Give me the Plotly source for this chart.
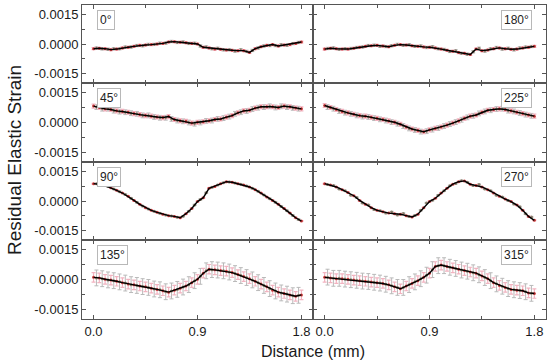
import plotly.graph_objects as go
from plotly.subplots import make_subplots

# Distance (mm) positions
DIST = [0.00, 0.05, 0.10, 0.15, 0.20, 0.25, 0.30, 0.35, 0.40, 0.45, 0.50, 0.55,
        0.60, 0.65, 0.70, 0.75, 0.80, 0.85, 0.90, 0.95, 1.00, 1.05, 1.10, 1.15,
        1.20, 1.25, 1.30, 1.35, 1.40, 1.45, 1.50, 1.55, 1.60, 1.65, 1.70, 1.75, 1.80]
DIST_PTS = [0.025, 0.075, 0.125, 0.175, 0.225, 0.275, 0.325, 0.375, 0.425, 0.475,
            0.525, 0.575, 0.625, 0.675, 0.725, 0.775, 0.825, 0.875, 0.925, 0.975,
            1.025, 1.075, 1.125, 1.175, 1.225, 1.275, 1.325, 1.375, 1.425, 1.475,
            1.525, 1.575, 1.625, 1.675, 1.725, 1.775]

# Residual elastic strain: mean curve (black) and measured points
MEAN_0 = [-24e-5, -22e-5, -24e-5, -29e-5, -26e-5, -20e-5, -17e-5, -12e-5, -7e-5, -5e-5, -3e-5, 0e-5,
          3e-5, 10e-5, 12e-5, 9e-5, 7e-5, 3e-5, 0e-5, -17e-5, -20e-5, -26e-5, -27e-5, -31e-5,
          -32e-5, -34e-5, -34e-5, -43e-5, -24e-5, -14e-5, -7e-5, -3e-5, -10e-5, -5e-5, -3e-5, 3e-5, 10e-5]
PTS_0 = [-21e-5, -25e-5, -27e-5, -25e-5, -24e-5, -16e-5, -15e-5, -8e-5, -9e-5, -2e-5, -2e-5, 4e-5,
         5e-5, 13e-5, 8e-5, 10e-5, 3e-5, 4e-5, -10e-5, -15e-5, -24e-5, -22e-5, -30e-5, -29e-5,
         -36e-5, -30e-5, -38e-5, -33e-5, -20e-5, -10e-5, -8e-5, -8e-5, -4e-5, -6e-5, 2e-5, 8e-5]

MEAN_180 = [-26e-5, -22e-5, -24e-5, -26e-5, -26e-5, -22e-5, -17e-5, -12e-5, -9e-5, -7e-5, -10e-5, -14e-5,
            -7e-5, -3e-5, -5e-5, -9e-5, -12e-5, -15e-5, -17e-5, -20e-5, -26e-5, -32e-5, -37e-5, -44e-5,
            -48e-5, -54e-5, -26e-5, -34e-5, -31e-5, -24e-5, -20e-5, -24e-5, -27e-5, -26e-5, -20e-5, -17e-5, -12e-5]
PTS_180 = [-23e-5, -20e-5, -27e-5, -24e-5, -23e-5, -18e-5, -15e-5, -8e-5, -6e-5, -11e-5, -13e-5, -9e-5,
           -2e-5, -6e-5, -4e-5, -12e-5, -10e-5, -18e-5, -14e-5, -24e-5, -28e-5, -38e-5, -35e-5, -48e-5,
           -52e-5, -40e-5, -22e-5, -36e-5, -25e-5, -18e-5, -26e-5, -22e-5, -30e-5, -20e-5, -16e-5, -13e-5]

MEAN_45 = [83e-5, 76e-5, 69e-5, 66e-5, 59e-5, 56e-5, 52e-5, 45e-5, 40e-5, 35e-5, 32e-5, 28e-5,
           25e-5, 30e-5, 15e-5, 9e-5, 6e-5, -3e-5, 1e-5, 4e-5, 9e-5, 15e-5, 18e-5, 27e-5,
           35e-5, 49e-5, 59e-5, 62e-5, 73e-5, 80e-5, 80e-5, 80e-5, 76e-5, 83e-5, 80e-5, 73e-5, 69e-5]
PTS_45 = [78e-5, 70e-5, 70e-5, 60e-5, 55e-5, 52e-5, 47e-5, 44e-5, 36e-5, 36e-5, 28e-5, 24e-5,
          24e-5, 18e-5, 10e-5, 6e-5, 0e-5, -6e-5, 0e-5, 8e-5, 10e-5, 18e-5, 22e-5, 30e-5,
          44e-5, 52e-5, 58e-5, 68e-5, 75e-5, 78e-5, 82e-5, 76e-5, 82e-5, 78e-5, 74e-5, 70e-5]

MEAN_225 = [86e-5, 76e-5, 66e-5, 56e-5, 49e-5, 42e-5, 35e-5, 32e-5, 26e-5, 21e-5, 15e-5, 8e-5,
            1e-5, -9e-5, -23e-5, -33e-5, -40e-5, -47e-5, -37e-5, -30e-5, -23e-5, -13e-5, -3e-5, 8e-5,
            21e-5, 32e-5, 38e-5, 52e-5, 62e-5, 66e-5, 69e-5, 66e-5, 59e-5, 52e-5, 45e-5, 38e-5, 32e-5]
PTS_225 = [78e-5, 70e-5, 58e-5, 50e-5, 44e-5, 36e-5, 30e-5, 28e-5, 22e-5, 16e-5, 10e-5, 2e-5,
           -6e-5, -18e-5, -30e-5, -38e-5, -46e-5, -44e-5, -36e-5, -28e-5, -18e-5, -8e-5, 2e-5, 14e-5,
           26e-5, 34e-5, 46e-5, 56e-5, 62e-5, 68e-5, 70e-5, 60e-5, 56e-5, 48e-5, 40e-5, 34e-5]

MEAN_90 = [89e-5, 86e-5, 79e-5, 68e-5, 55e-5, 41e-5, 24e-5, 3e-5, -17e-5, -34e-5, -48e-5, -58e-5,
           -68e-5, -75e-5, -79e-5, -86e-5, -65e-5, -38e-5, -3e-5, 17e-5, 65e-5, 75e-5, 89e-5, 99e-5,
           96e-5, 89e-5, 82e-5, 72e-5, 58e-5, 41e-5, 21e-5, 3e-5, -17e-5, -38e-5, -62e-5, -86e-5, -103e-5]
PTS_90 = [88e-5, 83e-5, 74e-5, 62e-5, 48e-5, 33e-5, 14e-5, -7e-5, -26e-5, -41e-5, -53e-5, -63e-5,
          -72e-5, -77e-5, -83e-5, -78e-5, -52e-5, -20e-5, 8e-5, 42e-5, 70e-5, 82e-5, 94e-5, 98e-5,
          92e-5, 86e-5, 77e-5, 65e-5, 50e-5, 31e-5, 12e-5, -7e-5, -28e-5, -50e-5, -74e-5, -95e-5]

MEAN_270 = [89e-5, 82e-5, 72e-5, 58e-5, 44e-5, 27e-5, 3e-5, -17e-5, -34e-5, -48e-5, -55e-5, -62e-5,
            -65e-5, -68e-5, -75e-5, -82e-5, -68e-5, -34e-5, -3e-5, 14e-5, 41e-5, 65e-5, 86e-5, 99e-5,
            103e-5, 86e-5, 79e-5, 72e-5, 58e-5, 41e-5, 24e-5, 10e-5, -3e-5, -21e-5, -48e-5, -79e-5, -99e-5]
PTS_270 = [84e-5, 80e-5, 62e-5, 52e-5, 30e-5, 18e-5, -10e-5, -20e-5, -44e-5, -50e-5, -62e-5, -56e-5,
           -72e-5, -64e-5, -80e-5, -74e-5, -48e-5, -10e-5, 4e-5, 30e-5, 52e-5, 78e-5, 90e-5, 104e-5,
           96e-5, 80e-5, 84e-5, 62e-5, 52e-5, 30e-5, 20e-5, 2e-5, -16e-5, -30e-5, -66e-5, -82e-5]

MEAN_135 = [11e-5, 8e-5, 1e-5, -3e-5, -9e-5, -16e-5, -23e-5, -27e-5, -33e-5, -37e-5, -44e-5, -50e-5,
            -57e-5, -64e-5, -54e-5, -44e-5, -33e-5, -16e-5, 1e-5, 32e-5, 52e-5, 49e-5, 45e-5, 42e-5,
            35e-5, 25e-5, 15e-5, 4e-5, -9e-5, -23e-5, -37e-5, -54e-5, -64e-5, -71e-5, -78e-5, -85e-5, -78e-5]
PTS_135 = [8e-5, 4e-5, -2e-5, -6e-5, -12e-5, -18e-5, -26e-5, -30e-5, -36e-5, -40e-5, -48e-5, -52e-5,
           -62e-5, -58e-5, -50e-5, -38e-5, -26e-5, -6e-5, 16e-5, 44e-5, 50e-5, 48e-5, 44e-5, 38e-5,
           30e-5, 20e-5, 10e-5, -2e-5, -16e-5, -30e-5, -46e-5, -58e-5, -68e-5, -74e-5, -82e-5, -80e-5]

MEAN_315 = [11e-5, 8e-5, 4e-5, 4e-5, 1e-5, -3e-5, -6e-5, -9e-5, -13e-5, -16e-5, -20e-5, -27e-5,
            -37e-5, -47e-5, -33e-5, -20e-5, -6e-5, 11e-5, 32e-5, 66e-5, 73e-5, 66e-5, 59e-5, 52e-5,
            45e-5, 38e-5, 32e-5, 18e-5, 4e-5, -16e-5, -30e-5, -40e-5, -50e-5, -54e-5, -57e-5, -68e-5, -71e-5]
PTS_315 = [12e-5, 6e-5, 6e-5, 2e-5, -1e-5, -4e-5, -8e-5, -10e-5, -14e-5, -18e-5, -24e-5, -32e-5,
           -40e-5, -40e-5, -26e-5, -12e-5, 4e-5, 22e-5, 50e-5, 70e-5, 70e-5, 62e-5, 56e-5, 48e-5,
           42e-5, 34e-5, 24e-5, 10e-5, -6e-5, -22e-5, -34e-5, -46e-5, -52e-5, -56e-5, -62e-5, -70e-5]

# error-bar half widths (gray, pink) per angle
ERR_GRAY = {"0°": 6e-5, "180°": 6e-5, "45°": 12e-5, "225°": 12e-5,
            "90°": 3e-5, "270°": 3e-5, "135°": 40e-5, "315°": 40e-5}
ERR_PINK = {"0°": 5e-5, "180°": 5e-5, "45°": 10e-5, "225°": 10e-5,
            "90°": 2e-5, "270°": 2e-5, "135°": 24e-5, "315°": 24e-5}

X_TICKS = [0.0, 0.9, 1.8]
X_TICKTEXT = ["0.0", "0.9", "1.8"]
Y_TICKS = [-0.0015, 0.0, 0.0015]
Y_TICKTEXT = ["-0.0015", "0.0000", "0.0015"]

panels = [
    ("0°", 1, 1, MEAN_0, PTS_0), ("180°", 1, 2, MEAN_180, PTS_180),
    ("45°", 2, 1, MEAN_45, PTS_45), ("225°", 2, 2, MEAN_225, PTS_225),
    ("90°", 3, 1, MEAN_90, PTS_90), ("270°", 3, 2, MEAN_270, PTS_270),
    ("135°", 4, 1, MEAN_135, PTS_135), ("315°", 4, 2, MEAN_315, PTS_315),
]

W, H = 550, 363
ML, MR, MT, MB = 82, 4, 5, 44
PW, PH = W - ML - MR, H - MT - MB        # plot area in px
X_DOM = {1: [0.0, 231 / PW], 2: [231 / PW, 1.0]}
row_px = [5, 83, 162, 240, 319]


def py(p):
    """page pixel row -> paper fraction"""
    return (H - MB - p) / PH


def px(p):
    return (p - ML) / PW


Y_DOM = {r: [py(row_px[r]), py(row_px[r - 1])] for r in range(1, 5)}

fig = make_subplots(rows=4, cols=2, horizontal_spacing=0, vertical_spacing=0)

FONT = "Liberation Sans, Arial, sans-serif"
annotations = []
for label, r, c, mean, pts in panels:
    fig.add_trace(go.Scatter(
        x=DIST_PTS, y=pts, mode="markers",
        marker=dict(size=3, color="#8a7f6a"),
        error_y=dict(type="constant", value=ERR_GRAY[label], color="#b9b9b9",
                     thickness=1, width=2),
        showlegend=False, hoverinfo="skip"), row=r, col=c)
    fig.add_trace(go.Scatter(
        x=DIST, y=mean, mode="markers",
        marker=dict(size=3, color="#cc3b3b"),
        error_y=dict(type="constant", value=ERR_PINK[label], color="#f2b3c0",
                     thickness=1.2, width=2),
        showlegend=False, hoverinfo="skip"), row=r, col=c)
    fig.add_trace(go.Scatter(
        x=DIST, y=mean, mode="lines",
        line=dict(color="black", width=1.4),
        showlegend=False, hoverinfo="skip"), row=r, col=c)

    idx = (r - 1) * 2 + c
    sfx = "" if idx == 1 else str(idx)
    if c == 1:
        ax, xanchor = (97 - 82) / 231, "left"
    else:
        ax, xanchor = (532 - 313) / 233, "right"
    annotations.append(dict(
        text=label, xref=f"x{sfx} domain", yref=f"y{sfx} domain",
        x=ax, y=1 - 5 / 78, xanchor=xanchor, yanchor="top", showarrow=False,
        font=dict(family=FONT, size=12, color="#222"),
        bordercolor="#b8b8b8", borderwidth=1, borderpad=2, bgcolor="white"))

    fig.update_xaxes(
        domain=X_DOM[c], range=[-0.1, 1.9], automargin=False,
        tickvals=X_TICKS, ticktext=X_TICKTEXT, showticklabels=(r == 4),
        ticks="inside", ticklen=4, tickcolor="#555", showline=True,
        linecolor="#555", linewidth=1, mirror="allticks",
        showgrid=False, zeroline=False,
        minor=dict(tickvals=[0.45, 1.35], ticks="inside", ticklen=3, tickcolor="#555"),
        tickfont=dict(family=FONT, size=13, color="#1a1a1a"),
        row=r, col=c)
    fig.update_yaxes(
        domain=Y_DOM[r], range=[-0.002, 0.002], automargin=False,
        tickvals=Y_TICKS, ticktext=Y_TICKTEXT, showticklabels=(c == 1),
        ticks="inside", ticklen=4, tickcolor="#555", showline=True,
        linecolor="#555", linewidth=1, mirror="allticks",
        showgrid=False, zeroline=False,
        minor=dict(tickvals=[-0.00075, 0.00075], ticks="inside", ticklen=3, tickcolor="#555"),
        tickfont=dict(family=FONT, size=13, color="#1a1a1a"),
        row=r, col=c)

annotations.append(dict(
    text="Residual Elastic Strain", xref="paper", yref="paper",
    x=px(14), y=py(160), textangle=-90, showarrow=False,
    xanchor="center", yanchor="middle",
    font=dict(family=FONT, size=19, color="#1a1a1a")))
annotations.append(dict(
    text="Distance (mm)", xref="paper", yref="paper",
    x=px(313), y=py(351), showarrow=False,
    xanchor="center", yanchor="middle",
    font=dict(family=FONT, size=16, color="#1a1a1a")))

fig.update_layout(
    width=W, height=H, margin=dict(l=ML, r=MR, t=MT, b=MB, autoexpand=False),
    paper_bgcolor="white", plot_bgcolor="white",
    annotations=annotations, showlegend=False,
    font=dict(family=FONT, size=13, color="#1a1a1a"),
)

fig.write_html("out.html", config={"displayModeBar": False},
               post_script="document.body.style.margin='0';")
